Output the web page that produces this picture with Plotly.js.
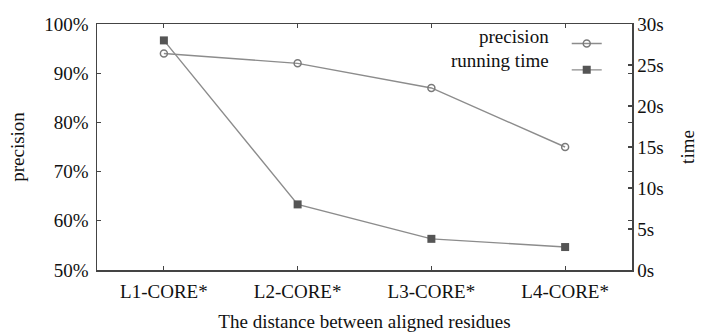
<!DOCTYPE html>
<html>
<head>
<meta charset="utf-8">
<script src="https://cdn.plot.ly/plotly-3.0.1.min.js"></script>
<style>html,body{margin:0;padding:0;background:#fff;}#chart{width:702px;height:336px;}</style>
</head>
<body>
<div id="chart"></div>
<script>
var categories = ['L1-CORE*', 'L2-CORE*', 'L3-CORE*', 'L4-CORE*'];
var precision = [94, 92, 87, 75];
var runningTime = [28, 8, 3.8, 2.8];
var seriesNames = ['precision', 'running time'];

var FONT = 'Liberation Serif, Times New Roman, serif';
var TXT = '#111';
var lineColor = '#8c8c8c';

var traces = [
  {
    x: categories, y: precision, type: 'scatter', mode: 'lines+markers',
    name: '', yaxis: 'y',
    line: {color: lineColor, width: 1.4},
    marker: {symbol: 'circle-open', size: 7, color: '#7a7a7a', line: {width: 1.5, color: '#7a7a7a'}}
  },
  {
    x: categories, y: runningTime, type: 'scatter', mode: 'lines+markers',
    name: '', yaxis: 'y2',
    line: {color: lineColor, width: 1.4},
    marker: {symbol: 'square', size: 8, color: '#555555'}
  }
];

var axisCommon = {
  showline: true, linecolor: '#444', linewidth: 1.5,
  ticks: 'inside', ticklen: 4, tickcolor: '#444', tickwidth: 1.2,
  showgrid: false, zeroline: false,
  tickfont: {family: FONT, size: 19, color: TXT}
};

var layout = {
  width: 702, height: 336,
  margin: {l: 97, r: 70, t: 24, b: 66},
  paper_bgcolor: '#fff', plot_bgcolor: '#fff',
  font: {family: FONT, size: 19, color: TXT},
  showlegend: true,
  legend: {
    x: 0.878, xanchor: 'left', y: 0.995, yanchor: 'top',
    bgcolor: 'rgba(0,0,0,0)', borderwidth: 0,
    font: {family: FONT, size: 18, color: TXT},
    itemwidth: 30, tracegroupgap: 0
  },
  xaxis: Object.assign({}, axisCommon, {
    type: 'category', range: [-0.5, 3.5], mirror: 'ticks',
    ticklabelstandoff: 4,
    title: {text: 'The distance between aligned residues', font: {family: FONT, size: 19, color: TXT}, standoff: 13}
  }),
  yaxis: Object.assign({}, axisCommon, {
    range: [50, 100], dtick: 10, tick0: 50, ticksuffix: '%', mirror: 'ticks',
    ticklabelstandoff: 3,
    title: {text: 'precision', font: {family: FONT, size: 19, color: TXT}, standoff: 14}
  }),
  yaxis2: Object.assign({}, axisCommon, {
    overlaying: 'y', side: 'right', range: [0, 30], dtick: 5, tick0: 0, ticksuffix: 's',
    title: {text: 'time', font: {family: FONT, size: 19, color: TXT}, standoff: 18}
  }),
  annotations: [
    {xref: 'paper', yref: 'paper', x: 0.849, y: 0.95, xanchor: 'right', yanchor: 'middle',
     text: seriesNames[0], showarrow: false, font: {family: FONT, size: 19, color: TXT}},
    {xref: 'paper', yref: 'paper', x: 0.849, y: 0.853, xanchor: 'right', yanchor: 'middle',
     text: seriesNames[1], showarrow: false, font: {family: FONT, size: 19, color: TXT}}
  ]
};

Plotly.newPlot('chart', traces, layout, {displayModeBar: false, staticPlot: true});
</script>
</body>
</html>
